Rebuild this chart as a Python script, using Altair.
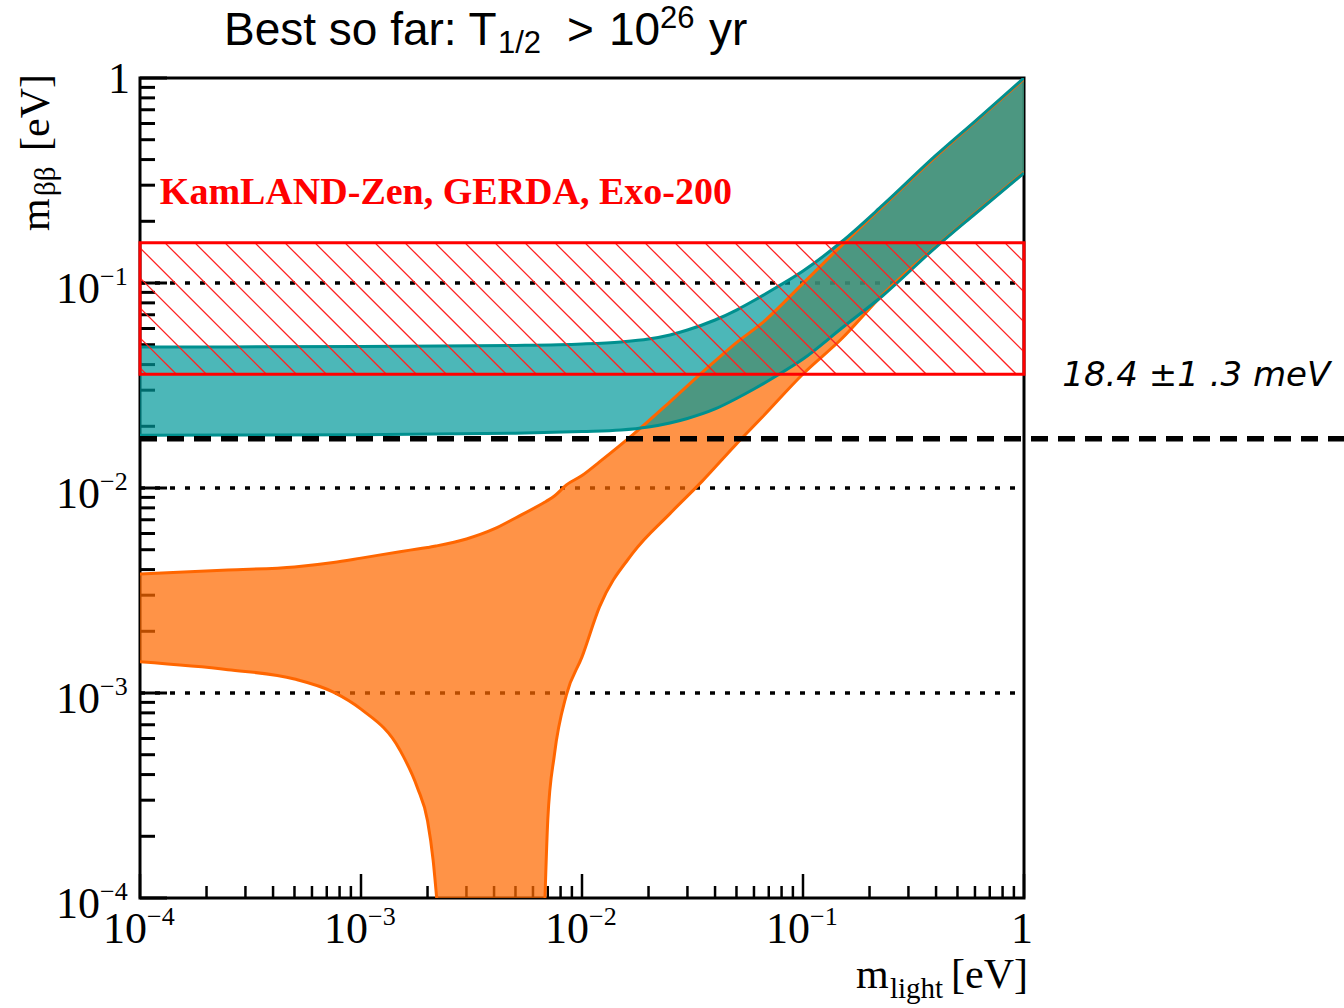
import math
import altair as alt
import pandas as pd

# ---------------- data ----------------
# Normal ordering band (orange): lightest mass vs m_bb upper / lower edge
no_m = [1e-4, 2.5e-4, 5e-4, 7.5e-4, 1e-3, 1.5e-3, 1.8e-3, 2e-3, 2.12e-3, 2.2e-3,
        3e-3, 4e-3, 5e-3, 6.8e-3, 7e-3, 7.5e-3, 8.5e-3, 1e-2, 1.2e-2, 1.7e-2,
        2.5e-2, 3.5e-2, 5e-2, 6.5e-2, 0.1, 0.15, 0.23, 0.4, 0.6, 1.0]
no_upper = [3.81e-3, 3.98e-3, 4.12e-3, 4.33e-3, 4.55e-3, 4.89e-3, 5.04e-3, 5.13e-3, 5.18e-3, 5.22e-3,
            5.64e-3, 6.31e-3, 7.14e-3, 8.54e-3, 8.70e-3, 9.14e-3, 1.035e-2, 1.15e-2, 1.34e-2, 1.82e-2,
            2.63e-2, 3.66e-2, 5.12e-2, 6.35e-2, 0.0995, 0.153, 0.237, 0.415, 0.61, 0.989]
no_lower = [1.42e-3, 1.30e-3, 1.17e-3, 1.01e-3, 8.34e-4, 5.27e-4, 3.45e-4, 2.38e-4, 1.53e-4, 1.0e-4,
            1e-4, 1e-4, 1e-4, 1e-4, 2.40e-4, 5.0e-4, 9.8e-4, 1.5e-3, 2.63e-3, 4.82e-3,
            7.5e-3, 1.08e-2, 1.64e-2, 2.2e-2, 0.036, 0.0536, 0.088, 0.151, 0.219, 0.347]

# Inverted ordering band (teal)
io_m = [1e-4, 1e-3, 5e-3, 1e-2, 1.5e-2, 2e-2, 2.5e-2, 3e-2, 4e-2, 5e-2,
        6e-2, 7.5e-2, 0.1, 0.15, 0.23, 0.4, 0.6, 1.0]
io_upper = [0.0487, 0.0490, 0.0496, 0.0504, 0.0516, 0.0533, 0.0558, 0.0590, 0.0660, 0.0738,
            0.0821, 0.0945, 0.1144, 0.1594, 0.2402, 0.42, 0.615, 1.0]
io_lower = [0.0181, 0.0182, 0.0185, 0.01886, 0.01918, 0.01984, 0.02075, 0.02183, 0.02429, 0.02733,
            0.0304, 0.03499, 0.04258, 0.0603, 0.0869, 0.1498, 0.2171, 0.344]

limit_low, limit_high = 0.0359, 0.157          # excluded (hatched) band
dashed_level = 0.0174                           # dashed black line
dotted_levels = [0.1, 0.01, 0.001]
x_domain = [1e-4, 1.0]
y_domain = [1e-4, 1.0]

decades = [1e-4, 1e-3, 1e-2, 1e-1]
decade_exp = ["\u22124", "\u22123", "\u22122", "\u22121"]
minor_ticks = [k * 10.0 ** d for d in range(-4, 0) for k in range(2, 10)]
major_ticks = [1e-4, 1e-3, 1e-2, 1e-1, 1.0]

label_text = "KamLAND-Zen, GERDA, Exo-200"
label_pos = (1.23e-4, 0.243)
note_text = "18.4 \u00b11 .3 meV"
note_pos = (1.49, 0.0315)

# ---------------- layout / style ----------------
W, H = 884, 820
ORANGE_FILL, ORANGE_LINE = "#FF6A00", "#FF6600"
TEAL_FILL, TEAL_LINE = "#00999A", "#00908F"
SERIF = "Liberation Serif"
SANS = "Liberation Sans"

xs = alt.Scale(type="log", domain=x_domain, nice=False)
ys = alt.Scale(type="log", domain=y_domain, nice=False)
X = lambda f="x": alt.X(f"{f}:Q", scale=xs, axis=None)
Y = lambda f="y": alt.Y(f"{f}:Q", scale=ys, axis=None)


def px_to_x(p):
    return 10 ** (p / (W / 4) - 4)


def px_to_y(p):
    return 10 ** (-p / (H / 4))


def y_to_px(v):
    return -math.log10(v) * (H / 4)


no_df = pd.DataFrame({"x": no_m, "y": no_upper, "y2": no_lower})
io_df = pd.DataFrame({"x": io_m, "y": io_upper, "y2": io_lower})

# lower orange edge in two branches (it drops below the axis in between)
first_floor = next(i for i, v in enumerate(no_lower) if v <= 1e-4)
last_floor = max(i for i, v in enumerate(no_lower) if v <= 1e-4)
lo_rows = [dict(x=no_m[i], y=no_lower[i], seg="a") for i in range(0, first_floor + 1)]
lo_rows += [dict(x=no_m[i], y=no_lower[i], seg="b") for i in range(last_floor, len(no_m))]
no_lo_df = pd.DataFrame(lo_rows)

# hatch texture of the excluded band (45 degree lines, 30 px apart)
top_px, bot_px = y_to_px(limit_high), y_to_px(limit_low)
hh = bot_px - top_px
hatch = []
c = -5.0
while c - 30 > -hh:
    c -= 30
while c < W:
    if c >= 0:
        x0, y0 = c, top_px
    else:
        x0, y0 = 0.0, top_px - c
    if c + hh <= W:
        x1, y1 = c + hh, bot_px
    else:
        x1, y1 = W, top_px + (W - c)
    hatch.append(dict(x=px_to_x(x0), y=px_to_y(y0), x2=px_to_x(x1), y2=px_to_y(y1)))
    c += 30
hatch_df = pd.DataFrame(hatch)

layers = []

# dotted reference lines
layers.append(alt.Chart(pd.DataFrame({"y": dotted_levels, "x": x_domain[0], "x2": x_domain[1]}))
              .mark_rule(color="black", strokeWidth=3.5, strokeDash=[5, 10])
              .encode(x=X(), x2="x2:Q", y=Y()))

# ticks (inward)
layers.append(alt.Chart(pd.DataFrame({"y": minor_ticks}))
              .mark_rule(color="black", strokeWidth=3)
              .encode(y=Y(), x=alt.value(0), x2=alt.value(15)))
layers.append(alt.Chart(pd.DataFrame({"y": major_ticks}))
              .mark_rule(color="black", strokeWidth=3)
              .encode(y=Y(), x=alt.value(0), x2=alt.value(27)))
layers.append(alt.Chart(pd.DataFrame({"x": minor_ticks}))
              .mark_rule(color="black", strokeWidth=2.5)
              .encode(x=X(), y=alt.value(H), y2=alt.value(H - 12)))
layers.append(alt.Chart(pd.DataFrame({"x": major_ticks}))
              .mark_rule(color="black", strokeWidth=2.5)
              .encode(x=X(), y=alt.value(H), y2=alt.value(H - 24)))

# bands
layers.append(alt.Chart(no_df).mark_area(color=ORANGE_FILL, opacity=0.72, interpolate="monotone", clip=True)
              .encode(x=X(), y=Y(), y2="y2:Q"))
layers.append(alt.Chart(io_df).mark_area(color=TEAL_FILL, opacity=0.70, interpolate="monotone", clip=True)
              .encode(x=X(), y=Y(), y2="y2:Q"))
layers.append(alt.Chart(no_df).mark_line(color=ORANGE_LINE, strokeWidth=3, interpolate="monotone", clip=True)
              .encode(x=X(), y=Y()))
layers.append(alt.Chart(no_lo_df).mark_line(color=ORANGE_LINE, strokeWidth=3, interpolate="monotone", clip=True)
              .encode(x=X(), y=Y(), detail="seg:N"))
layers.append(alt.Chart(io_df).mark_line(color=TEAL_LINE, strokeWidth=3, interpolate="monotone", clip=True)
              .encode(x=X(), y=Y()))
layers.append(alt.Chart(io_df).mark_line(color=TEAL_LINE, strokeWidth=3, interpolate="monotone", clip=True)
              .encode(x=X(), y=Y("y2")))

# excluded region: hatch + border
layers.append(alt.Chart(hatch_df).mark_rule(color="#FF2020", strokeWidth=1.3)
              .encode(x=X(), y=Y(), x2="x2:Q", y2="y2:Q"))
layers.append(alt.Chart(pd.DataFrame({"x": [x_domain[0]], "x2": [x_domain[1]],
                                      "y": [limit_low], "y2": [limit_high]}))
              .mark_rect(fill=None, stroke="#FF0000", strokeWidth=3)
              .encode(x=X(), x2="x2:Q", y=Y(), y2="y2:Q"))

# dashed line, running past the frame to the page edge
layers.append(alt.Chart(pd.DataFrame({"x": [x_domain[0]], "x2": [px_to_x(1344 - 140)], "y": [dashed_level]}))
              .mark_rule(color="black", strokeWidth=5.5, strokeDash=[17, 10], clip=False)
              .encode(x=X(), x2="x2:Q", y=Y()))

# experiment label and hand note
layers.append(alt.Chart(pd.DataFrame({"x": [label_pos[0]], "y": [label_pos[1]], "t": [label_text]}))
              .mark_text(font=SERIF, fontWeight="bold", fontSize=38, color="#FF0000", align="left",
                         baseline="alphabetic")
              .encode(x=X(), y=Y(), text="t:N"))
layers.append(alt.Chart(pd.DataFrame({"x": [note_pos[0]], "y": [note_pos[1]], "t": [note_text]}))
              .mark_text(font="DejaVu Sans", fontStyle="italic", fontSize=34, color="black", align="left",
                         baseline="alphabetic")
              .encode(x=X(), y=Y(), text="t:N"))

# tick labels
dec_df = pd.DataFrame({"v": decades, "e": decade_exp, "b": "10"})
layers.append(alt.Chart(dec_df).mark_text(font=SERIF, fontSize=44, align="right", baseline="alphabetic", dy=20)
              .encode(y=Y("v"), x=alt.value(-40), text="b:N"))
layers.append(alt.Chart(dec_df).mark_text(font=SERIF, fontSize=26, align="left", baseline="alphabetic", dy=2)
              .encode(y=Y("v"), x=alt.value(-40), text="e:N"))
layers.append(alt.Chart(pd.DataFrame({"v": [1.0], "b": ["1"]}))
              .mark_text(font=SERIF, fontSize=44, align="right", baseline="alphabetic", dy=15)
              .encode(y=Y("v"), x=alt.value(-10), text="b:N"))
layers.append(alt.Chart(dec_df).mark_text(font=SERIF, fontSize=44, align="right", baseline="alphabetic", dx=7)
              .encode(x=X("v"), y=alt.value(865), text="b:N"))
layers.append(alt.Chart(dec_df).mark_text(font=SERIF, fontSize=26, align="left", baseline="alphabetic", dx=7)
              .encode(x=X("v"), y=alt.value(847), text="e:N"))
layers.append(alt.Chart(pd.DataFrame({"v": [1.0], "b": ["1"]}))
              .mark_text(font=SERIF, fontSize=44, align="center", baseline="alphabetic", dx=-2)
              .encode(x=X("v"), y=alt.value(865), text="b:N"))


# titles built from pieces (sub/superscripts)
def piece(text, x, y, size, font, angle=0):
    kw = dict(font=font, fontSize=size, align="left", baseline="alphabetic", text=text)
    if angle:
        kw["angle"] = angle
    return alt.Chart(pd.DataFrame({"d": [0]})).mark_text(**kw).encode(x=alt.value(x), y=alt.value(y))


title_pieces = [("Best so far: T", 84, -33, 46), ("1/2", 358, -25, 31), (">", 427, -33, 46),
                ("10", 469, -33, 46), ("26", 520, -50, 31), ("yr", 569, -33, 46)]
for t, x, y, s in title_pieces:
    layers.append(piece(t, x, y, s, SANS))

xtitle_pieces = [("m", 716, 910, 42), ("light", 750, 920, 29), ("[eV]", 811, 910, 42)]
for t, x, y, s in xtitle_pieces:
    layers.append(piece(t, x, y, s, SERIF))

ytitle_pieces = [("m", -91, 153, 42), ("\u03b2\u03b2", -85, 118, 29), ("[eV]", -91, 73, 42)]
for t, x, y, s in ytitle_pieces:
    layers.append(piece(t, x, y, s, SERIF, angle=270))

chart = (alt.layer(*layers)
         .properties(width=W, height=H,
                     autosize=alt.AutoSizeParams(type="none"),
                     padding={"left": 140, "top": 78, "right": 320, "bottom": 110},
                     background="white")
         .configure_view(stroke="black", strokeWidth=3))

chart.save("out.html", embed_options={"renderer": "svg", "actions": False})
